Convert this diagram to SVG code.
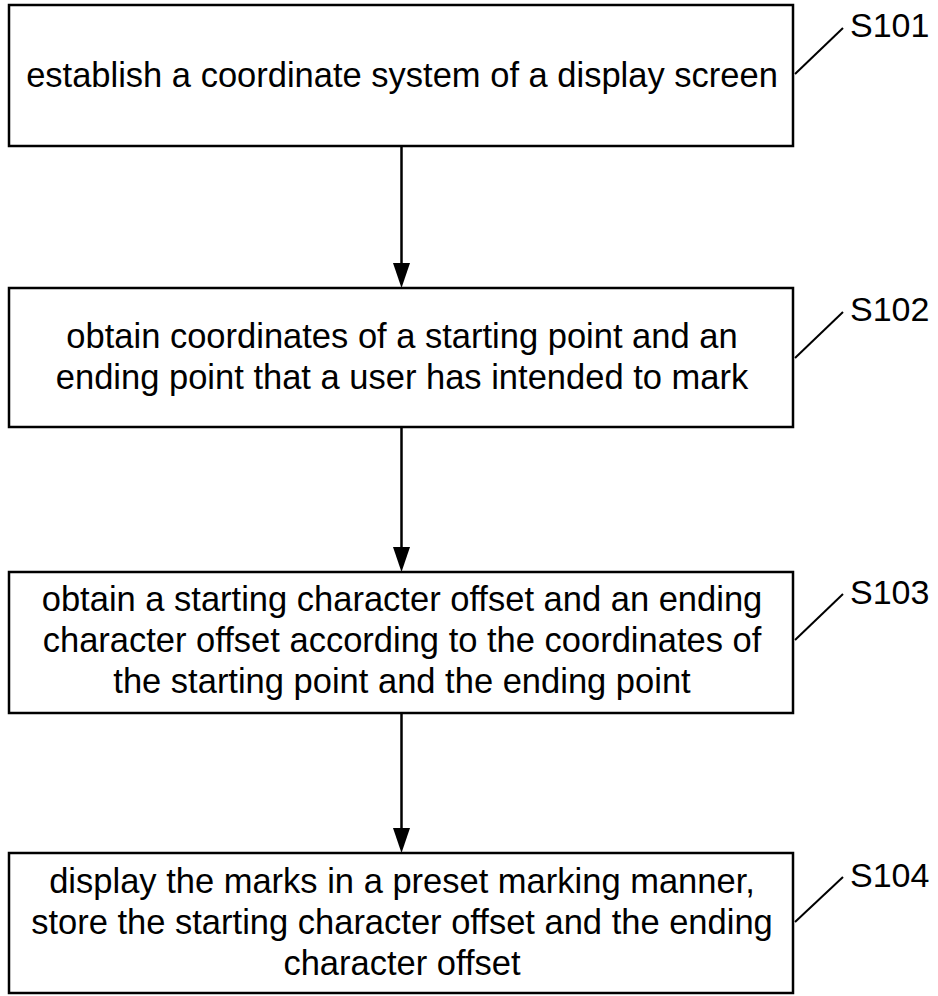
<svg xmlns="http://www.w3.org/2000/svg" width="938" height="996" viewBox="0 0 938 996">
  <style>
    .box { fill: #fff; stroke: #000; stroke-width: 2.5; }
    .txt { font-family: "Liberation Sans", Arial, sans-serif; font-size: 34.5px; fill: #000; text-anchor: middle; }
    .lbl { font-family: "Liberation Sans", Arial, sans-serif; font-size: 34px; fill: #000; }
    .lead { stroke: #000; stroke-width: 2; fill: none; }
    .conn { stroke: #000; stroke-width: 2.5; fill: none; }
    .head { fill: #000; }
  </style>
  <rect width="938" height="996" fill="#fff"/>

  <g id="connectors">
    <line class="conn" x1="401.5" y1="146" x2="401.5" y2="263"/>
    <path class="head" d="M393,263 L410,263 L401.5,288 Z"/>
    <line class="conn" x1="401.5" y1="427" x2="401.5" y2="547"/>
    <path class="head" d="M393,547 L410,547 L401.5,572 Z"/>
    <line class="conn" x1="401.5" y1="713" x2="401.5" y2="828"/>
    <path class="head" d="M393,828 L410,828 L401.5,853 Z"/>
  </g>

  <g id="s101">
    <rect class="box" x="9" y="5" width="784" height="141"/>
    <text class="txt" x="402" y="87">establish a coordinate system of a display screen</text>
    <line class="lead" x1="795" y1="74" x2="843" y2="28"/>
    <text class="lbl" x="850" y="37">S101</text>
  </g>

  <g id="s102">
    <rect class="box" x="9" y="288" width="784" height="139"/>
    <text class="txt" x="402" y="348">obtain coordinates of a starting point and an</text>
    <text class="txt" x="402" y="389">ending point that a user has intended to mark</text>
    <line class="lead" x1="795" y1="358" x2="843" y2="312"/>
    <text class="lbl" x="850" y="321">S102</text>
  </g>

  <g id="s103">
    <rect class="box" x="9" y="572" width="784" height="141"/>
    <text class="txt" x="402" y="611">obtain a starting character offset and an ending</text>
    <text class="txt" x="402" y="652">character offset according to the coordinates of</text>
    <text class="txt" x="402" y="693">the starting point and the ending point</text>
    <line class="lead" x1="795" y1="640" x2="843" y2="594"/>
    <text class="lbl" x="850" y="604">S103</text>
  </g>

  <g id="s104">
    <rect class="box" x="9" y="853" width="784" height="140"/>
    <text class="txt" x="402" y="893">display the marks in a preset marking manner,</text>
    <text class="txt" x="402" y="934">store the starting character offset and the ending</text>
    <text class="txt" x="402" y="975">character offset</text>
    <line class="lead" x1="795" y1="922" x2="843" y2="877"/>
    <text class="lbl" x="850" y="887">S104</text>
  </g>
</svg>
